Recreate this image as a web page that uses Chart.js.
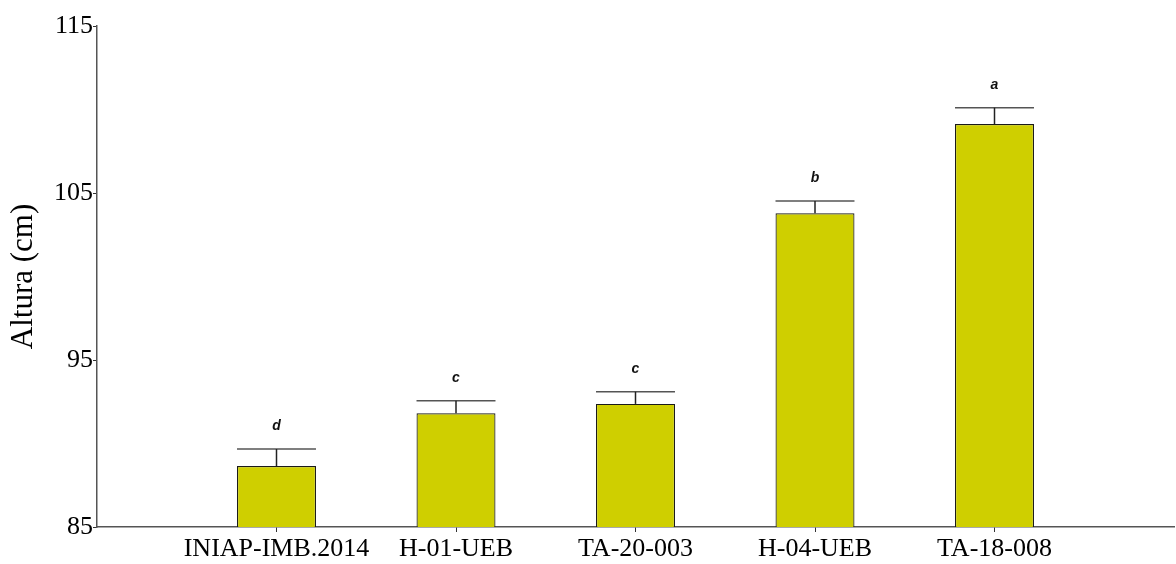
<!DOCTYPE html>
<html>
<head>
<meta charset="utf-8">
<script src="https://cdn.jsdelivr.net/npm/chart.js@4"></script>
<style>
html,body{margin:0;padding:0;background:#fff;}
#wrap{width:1176px;height:564px;position:relative;}
</style>
</head>
<body>
<div id="wrap"><canvas id="c" width="1176" height="564"></canvas></div>
<script>
const categories = ['', 'INIAP-IMB.2014', 'H-01-UEB', 'TA-20-003', 'H-04-UEB', 'TA-18-008', ''];
const means = [null, 88.65, 91.81, 92.37, 103.78, 109.13, null];
const errors = [null, 1.02, 0.75, 0.73, 0.74, 0.98, null];
const letters = ['', 'd', 'c', 'c', 'b', 'a', ''];
const yTicks = [85, 95, 105, 115];

const errorPlugin = {
  id: 'errorBars',
  afterDatasetsDraw(chart) {
    const ctx = chart.ctx;
    const meta = chart.getDatasetMeta(0);
    const y = chart.scales.y;
    ctx.save();
    meta.data.forEach((bar, i) => {
      if (means[i] == null) return;
      const half = bar.width / 2;
      const yTop = y.getPixelForValue(means[i] + errors[i]);
      const yBar = y.getPixelForValue(means[i]);
      ctx.strokeStyle = '#555555';
      ctx.lineWidth = 1.5;
      ctx.beginPath();
      ctx.moveTo(bar.x - half, yTop);
      ctx.lineTo(bar.x + half, yTop);
      ctx.stroke();
      ctx.strokeStyle = '#222222';
      ctx.lineWidth = 1.5;
      ctx.beginPath();
      ctx.moveTo(bar.x, yTop);
      ctx.lineTo(bar.x, yBar);
      ctx.stroke();
      ctx.fillStyle = '#111111';
      ctx.font = 'italic bold 14px "Liberation Sans", Arial, sans-serif';
      ctx.textAlign = 'center';
      ctx.textBaseline = 'middle';
      ctx.fillText(letters[i], bar.x, yTop - 23);
    });
    ctx.restore();
  }
};

new Chart(document.getElementById('c'), {
  type: 'bar',
  data: {
    labels: categories,
    datasets: [{
      data: means,
      backgroundColor: '#CFCF00',
      borderColor: '#1a1a1a',
      borderWidth: 1.2,
      borderSkipped: false,
      categoryPercentage: 1,
      barPercentage: 0.44
    }]
  },
  options: {
    responsive: false,
    animation: false,
    devicePixelRatio: 1,
    layout: { padding: { top: 26, right: 0, left: 0, bottom: 0 } },
    plugins: { legend: { display: false }, tooltip: { enabled: false } },
    scales: {
      x: {
        type: 'category',
        offset: false,
        border: { color: '#555555', width: 1.5 },
        grid: {
          offset: false,
          drawOnChartArea: false,
          drawTicks: true,
          tickLength: 5,
          color: (c) => (c.index === 0 || c.index === categories.length - 1) ? 'rgba(0,0,0,0)' : '#333333'
        },
        ticks: {
          color: '#000',
          font: { family: '"Liberation Serif", "Times New Roman", serif', size: 26 },
          padding: 2,
          maxRotation: 0,
          autoSkip: false
        },
        afterFit(scale) { scale.height = 37; }
      },
      y: {
        min: 85,
        max: 115,
        afterBuildTicks(scale) { scale.ticks = yTicks.map(v => ({ value: v })); },
        border: { color: '#555555', width: 1.5 },
        grid: { drawOnChartArea: false, drawTicks: true, tickLength: 4, color: '#333333' },
        ticks: {
          color: '#000',
          font: { family: '"Liberation Serif", "Times New Roman", serif', size: 26 },
          padding: 0
        },
        title: {
          display: true,
          text: 'Altura (cm)',
          color: '#000',
          font: { family: '"Liberation Serif", "Times New Roman", serif', size: 31 },
          padding: { top: 5, bottom: 4 }
        },
        afterFit(scale) { scale.width = 97; }
      }
    }
  },
  plugins: [errorPlugin]
});
</script>
</body>
</html>
